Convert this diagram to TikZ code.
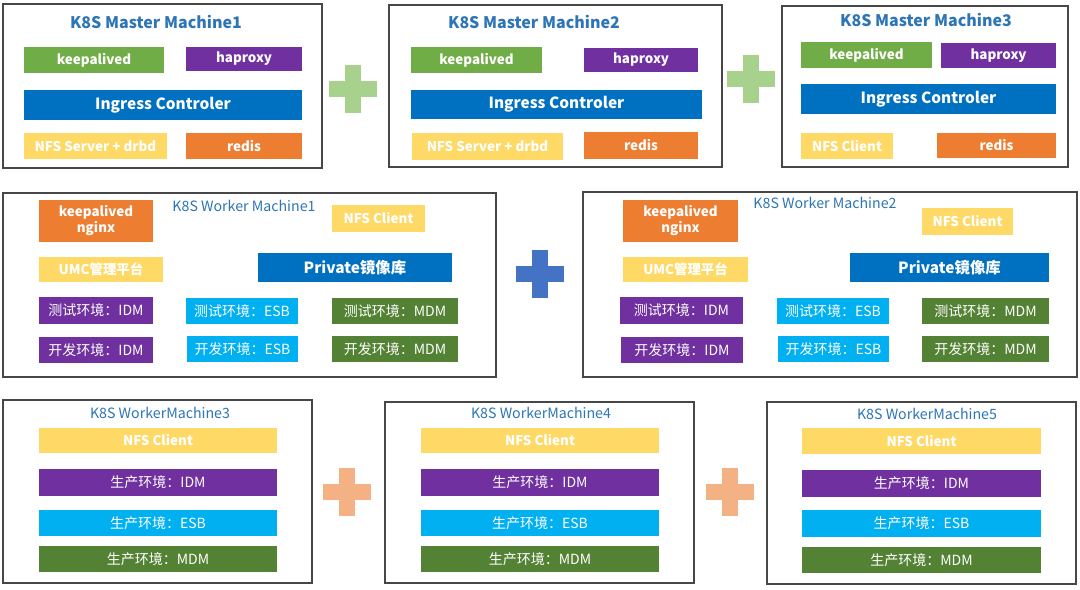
\documentclass[tikz,border=0pt]{standalone}
\usepackage{fontspec}
\setmainfont{Noto Sans CJK SC}
\definecolor{cgreen}{HTML}{70AD47}
\definecolor{cpurple}{HTML}{7030A0}
\definecolor{cblue}{HTML}{0070C0}
\definecolor{cyellow}{HTML}{FFD966}
\definecolor{corange}{HTML}{ED7D31}
\definecolor{clblue}{HTML}{00B0F0}
\definecolor{cdgreen}{HTML}{548235}
\definecolor{pgreen}{HTML}{A9D18E}
\definecolor{pblue}{HTML}{4472C4}
\definecolor{porange}{HTML}{F4B183}
\definecolor{titleblue}{HTML}{2E75B6}
\newcommand\bx[7]{\node[#6, minimum width={(#4-#2)*0.5pt}, minimum height={(#5-#3)*0.5pt}] (#1) at ({(#2+#4)/2},{(#3+#5)/2}) {#7};}
\newcommand\plussign[3]{%
  \fill[#3] ({#1-24},{#2-8}) rectangle ({#1+24},{#2+8});
  \fill[#3] ({#1-8},{#2-24}) rectangle ({#1+8},{#2+24});}
\begin{document}
\begin{tikzpicture}[x=0.5pt,y=-0.5pt,
  machine/.style={draw=black!72, line width=0.6pt, fill=white, inner sep=0pt},
  blk/.style={inner sep=0pt, text=white, align=center, font=\bfseries\fontsize{6.7}{8}\selectfont},
  big/.style={inner sep=0pt, text=white, font=\bfseries\fontsize{7.7}{9}\selectfont},
  small/.style={inner sep=0pt, text=white, font=\bfseries\fontsize{6.7}{8}\selectfont},
  cn/.style={inner sep=0pt, text=white, font=\fontsize{7}{8}\selectfont},
  mtitle/.style={text=titleblue, inner sep=0pt, font=\bfseries\fontsize{8}{10}\selectfont},
  wtitle/.style={text=titleblue, inner sep=0pt, font=\fontsize{7.1}{9}\selectfont}]
\useasboundingbox (0,0) rectangle (1080,589);
\fill[white] (0,0) rectangle (1080,589);

% ---------- machine frames ----------
\bx{m1}{3}{4}{322}{168}{machine}{}
\bx{m2}{389}{5}{722}{167}{machine}{}
\bx{m3}{782}{6}{1068}{167}{machine}{}
\bx{w1}{3}{193}{496}{377}{machine}{}
\bx{w2}{583}{192}{1077}{377}{machine}{}
\bx{w3}{3}{400}{312}{583}{machine}{}
\bx{w4}{385}{402}{694}{583}{machine}{}
\bx{w5}{767}{402}{1076}{584}{machine}{}

% ---------- titles ----------
\node[mtitle] (m1t) at (156,22) {K8S Master Machine1};
\node[mtitle] (m2t) at (534,22) {K8S Master Machine2};
\node[mtitle] (m3t) at (926,20) {K8S Master Machine3};
\node[wtitle] (w1t) at (244,206) {K8S Worker Machine1};
\node[wtitle] (w2t) at (825,203) {K8S Worker Machine2};
\node[wtitle] (w3t) at (160,413) {K8S WorkerMachine3};
\node[wtitle] (w4t) at (541,413) {K8S WorkerMachine4};
\node[wtitle] (w5t) at (927,414) {K8S WorkerMachine5};

% ---------- Master 1 ----------
\bx{m1ka}{24}{47}{164}{73}{blk,fill=cgreen}{keepalived}
\bx{m1ha}{186}{47}{302}{71}{blk,fill=cpurple}{haproxy}
\bx{m1ig}{24}{90}{302}{120}{big,fill=cblue}{Ingress Controler}
\bx{m1nfs}{24}{133}{167}{159}{small,fill=cyellow}{NFS Server + drbd}
\bx{m1re}{186}{133}{302}{159}{blk,fill=corange}{redis}

% ---------- Master 2 ----------
\bx{m2ka}{411}{47}{542}{73}{blk,fill=cgreen}{keepalived}
\bx{m2ha}{584}{48}{698}{72}{blk,fill=cpurple}{haproxy}
\bx{m2ig}{411}{90}{702}{119}{big,fill=cblue}{Ingress Controler}
\bx{m2nfs}{412}{133}{563}{160}{small,fill=cyellow}{NFS Server + drbd}
\bx{m2re}{584}{132}{698}{159}{blk,fill=corange}{redis}

% ---------- Master 3 ----------
\bx{m3ka}{801}{42}{932}{68}{blk,fill=cgreen}{keepalived}
\bx{m3ha}{941}{43}{1056}{68}{blk,fill=cpurple}{haproxy}
\bx{m3ig}{801}{84}{1056}{114}{big,fill=cblue}{Ingress Controler}
\bx{m3nfs}{801}{133}{893}{159}{small,fill=cyellow}{NFS Client}
\bx{m3re}{937}{133}{1056}{158}{blk,fill=corange}{redis}

% ---------- Worker 1 ----------
\bx{w1kn}{39}{200}{153}{242}{blk,fill=corange}{keepalived\\nginx}
\bx{w1nfs}{332}{205}{425}{232}{small,fill=cyellow}{NFS Client}
\bx{w1umc}{39}{257}{163}{282}{small,fill=cyellow}{UMC管理平台}
\bx{w1pr}{258}{253}{452}{282}{big,fill=cblue}{Private镜像库}
\bx{w1ti}{39}{297}{153}{324}{cn,fill=cpurple}{测试环境：IDM}
\bx{w1te}{186}{298}{298}{324}{cn,fill=clblue}{测试环境：ESB}
\bx{w1tm}{332}{298}{458}{324}{cn,fill=cdgreen}{测试环境：MDM}
\bx{w1di}{39}{337}{153}{363}{cn,fill=cpurple}{开发环境：IDM}
\bx{w1de}{187}{336}{298}{362}{cn,fill=clblue}{开发环境：ESB}
\bx{w1dm}{332}{336}{458}{362}{cn,fill=cdgreen}{开发环境：MDM}

% ---------- Worker 2 ----------
\bx{w2kn}{623}{200}{738}{242}{blk,fill=corange}{keepalived\\nginx}
\bx{w2nfs}{922}{208}{1013}{235}{small,fill=cyellow}{NFS Client}
\bx{w2umc}{623}{257}{748}{282}{small,fill=cyellow}{UMC管理平台}
\bx{w2pr}{850}{253}{1049}{282}{big,fill=cblue}{Private镜像库}
\bx{w2ti}{620}{297}{743}{324}{cn,fill=cpurple}{测试环境：IDM}
\bx{w2te}{777}{298}{889}{324}{cn,fill=clblue}{测试环境：ESB}
\bx{w2tm}{922}{298}{1049}{324}{cn,fill=cdgreen}{测试环境：MDM}
\bx{w2di}{621}{337}{743}{363}{cn,fill=cpurple}{开发环境：IDM}
\bx{w2de}{778}{336}{889}{362}{cn,fill=clblue}{开发环境：ESB}
\bx{w2dm}{922}{336}{1049}{362}{cn,fill=cdgreen}{开发环境：MDM}

% ---------- Worker 3 ----------
\bx{w3nfs}{39}{428}{277}{453}{small,fill=cyellow}{NFS Client}
\bx{w3i}{39}{469}{277}{496}{cn,fill=cpurple}{生产环境：IDM}
\bx{w3e}{39}{510}{277}{536}{cn,fill=clblue}{生产环境：ESB}
\bx{w3m}{39}{546}{277}{572}{cn,fill=cdgreen}{生产环境：MDM}

% ---------- Worker 4 ----------
\bx{w4nfs}{421}{428}{659}{453}{small,fill=cyellow}{NFS Client}
\bx{w4i}{421}{469}{659}{496}{cn,fill=cpurple}{生产环境：IDM}
\bx{w4e}{421}{510}{659}{536}{cn,fill=clblue}{生产环境：ESB}
\bx{w4m}{421}{546}{659}{572}{cn,fill=cdgreen}{生产环境：MDM}

% ---------- Worker 5 ----------
\bx{w5nfs}{802}{428}{1041}{454}{small,fill=cyellow}{NFS Client}
\bx{w5i}{802}{470}{1041}{497}{cn,fill=cpurple}{生产环境：IDM}
\bx{w5e}{802}{510}{1041}{537}{cn,fill=clblue}{生产环境：ESB}
\bx{w5m}{802}{547}{1041}{573}{cn,fill=cdgreen}{生产环境：MDM}

% ---------- plus signs ----------
\plussign{353}{89}{pgreen}
\plussign{751}{79}{pgreen}
\plussign{540}{274}{pblue}
\plussign{347}{492}{porange}
\plussign{730}{492}{porange}
\end{tikzpicture}
\end{document}
